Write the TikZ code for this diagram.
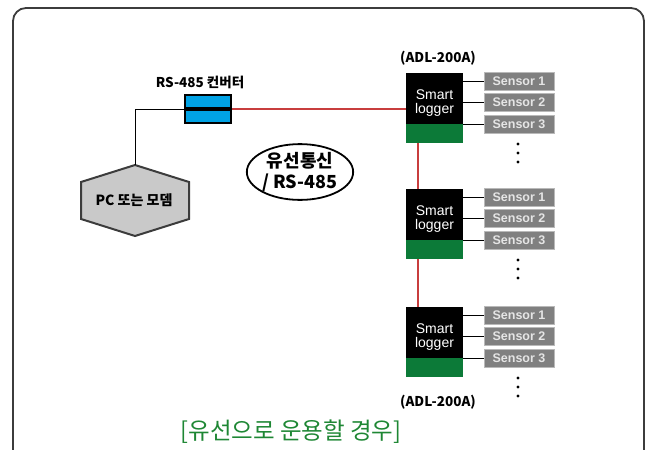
\documentclass[tikz,border=0pt]{standalone}
\usepackage{fontspec}
\setmainfont{Liberation Sans}
\newfontfamily\kr{Noto Sans CJK KR}
\usetikzlibrary{shapes.geometric}
\definecolor{loggergreen}{RGB}{12,122,56}
\definecolor{sensorgray}{RGB}{128,128,128}
\definecolor{cablered}{RGB}{200,62,62}
\definecolor{convblue}{RGB}{0,162,228}
\definecolor{titlegreen}{RGB}{30,135,52}
\definecolor{framegray}{RGB}{60,60,60}

\begin{document}
\begin{tikzpicture}[x=1pt,y=-1pt,
	logger/.style={fill=black,minimum width=57pt,minimum height=51pt,inner sep=0,outer sep=0,anchor=north west},
	loggerbase/.style={fill=loggergreen,minimum width=57pt,minimum height=19pt,inner sep=0,outer sep=0,anchor=north},
	loggertext/.style={text=white,align=center,inner sep=0,font=\fontsize{14}{14.5}\selectfont},
	sensor/.style={fill=sensorgray,draw=gray!55,line width=0.8pt,minimum width=70pt,minimum height=18pt,inner sep=0,outer sep=0,text=white!90!black,font=\fontsize{12.5}{13}\selectfont\bfseries},
	conv/.style={fill=convblue,draw=black,line width=2pt,minimum width=46pt,minimum height=13pt,inner sep=0},
	tagtext/.style={inner sep=0,font=\kr\fontsize{13.5}{15}\selectfont\bfseries},
	cable/.style={draw=cablered,line width=1.1pt},
	wire/.style={draw=black,line width=1pt}]
	\useasboundingbox (0,0) rectangle (649,450);
	\clip (0,0) rectangle (649,450);
	\draw[framegray,line width=1.8pt,rounded corners=13pt] (13,8) rectangle (644,470);

	% loggers with their sensors
	\foreach \n/\t in {1/73,2/189,3/307} {
		\node[logger] (lg\n) at (406,\t) {};
		\node[loggerbase] (lg\n b) at (lg\n.south) {};
		\node[loggertext] (lg\n t) at ([yshift=-4.5pt]lg\n.center) {Smart\\logger};
		\foreach \k in {1,2,3} {
			\node[sensor] (s\n\k) at ({519},{\t+8+21.5*(\k-1)}) {Sensor \k};
			\draw[wire] (s\n\k.west) -- (s\n\k.west -| lg\n.east);
		}
		\foreach \d in {0,9,18}
			\fill ({518},{\t+71+\d}) circle (1.6);
	}
	\node[tagtext] (adltop) at (438,58) {(ADL-200A)};
	\node[tagtext] (adlbot) at (438,402) {(ADL-200A)};

	% converter
	\node[conv,anchor=south] (conva) at (208,109) {};
	\node[conv,anchor=north] (convb) at (208,109) {};
	\node[tagtext] (convlabel) at (200,82) {RS-485 컨버터};

	% cables
	\draw[cable] (conva.south east) -- (conva.south east -| lg1.west);
	\draw[cable] ([xshift=12pt]lg1b.south west) -- ([xshift=12pt]lg2.north west);
	\draw[cable] ([xshift=12pt]lg2b.south west) -- ([xshift=12pt]lg3.north west);

	% pc
	\draw[fill=black!21,draw=framegray,line width=2pt] (135,165) -- (189,182) -- (189,219) -- (135,236) -- (81,219) -- (81,182) -- cycle;
	\coordinate (pctop) at (135,165);
	\node[tagtext,font=\kr\fontsize{14}{16}\selectfont\bfseries] (pc) at (134,200) {PC 또는 모뎀};
	\draw[wire] (conva.south west) -| (pctop);

	\node[draw,ellipse,line width=1.8pt,minimum width=87pt,minimum height=53pt,inner sep=0,align=center,font=\kr\fontsize{18}{21}\selectfont\bfseries] (bus) at (300,172) {유선통신\\/ RS-485};

	\node[text=titlegreen,font=\kr\fontsize{23.5}{25}\selectfont] (title) at (291,432) {[유선으로 운용할 경우]};
\end{tikzpicture}
\end{document}
